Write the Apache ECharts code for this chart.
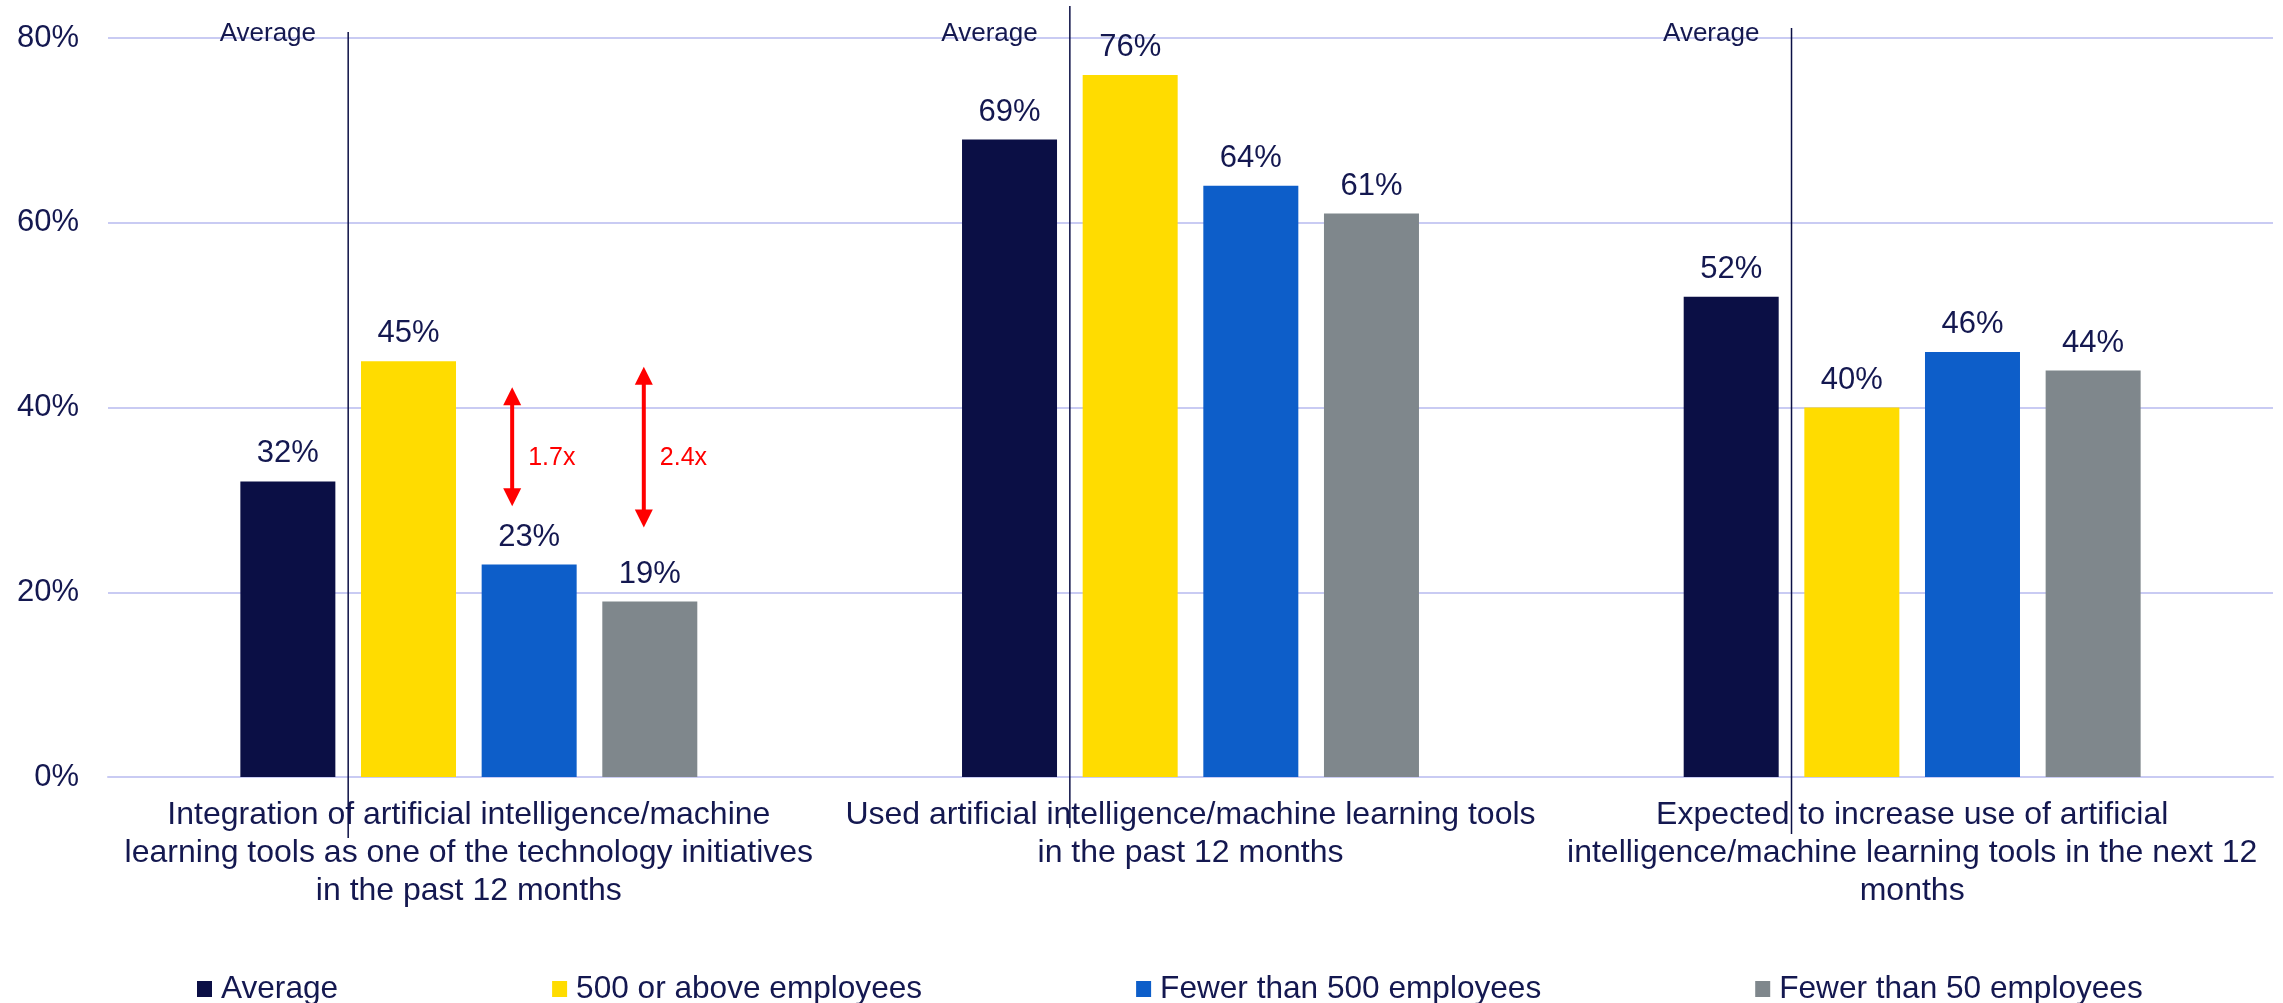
<!DOCTYPE html>
<html>
<head>
<meta charset="utf-8">
<script src="https://cdn.jsdelivr.net/npm/echarts@6/dist/echarts.min.js"></script>
<style>
  html, body { margin: 0; padding: 0; background: #ffffff; }
  #chart { width: 2283px; height: 1003px; }
</style>
</head>
<body>
<div id="chart"></div>
<script>
// Survey categories (x axis) and the four respondent groups
const categories = [
  'Integration of artificial intelligence/machine\nlearning tools as one of the technology initiatives\nin the past 12 months',
  'Used artificial intelligence/machine learning tools\nin the past 12 months',
  'Expected to increase use of artificial\nintelligence/machine learning tools in the next 12\nmonths'
];
const seriesNames = ['Average', '500 or above employees', 'Fewer than 500 employees', 'Fewer than 50 employees'];
const averageValues = [32, 69, 52];
const largeValues = [45, 76, 40];
const under500Values = [23, 64, 46];
const under50Values = [19, 61, 44];
const yTicks = [0, 20, 40, 60, 80];

// Ratio callouts in the first category: span (in %) and their text
const arrowCategory = [0, 0];
const arrowSlot = [2, 3];
const arrowTop = [42.2, 44.4];
const arrowBottom = [29.3, 27.0];
const arrowLabels = ['1.7x', '2.4x'];

const FONT = '"Liberation Sans", Arial, Helvetica, sans-serif';
const NAVY = '#0b0f45';
const TEXT = '#141850';
const GRID = '#c9cbf3';
const colors = ['#0b0f45', '#ffdc00', '#0d5ec9', '#7f878c'];

const BAR_W = 95;
const BAR_GAP = 0.27;
const STEP = BAR_W * (1 + BAR_GAP);

// per-category reach of the "Average" separator above the plot / below the axis (px)
const sepTop = [-6, -32, -10];
const sepBottom = [61, 51, 57];
const arrowShift = [-17, -6];

const valueSets = [averageValues, largeValues, under500Values, under50Values];

const barSeries = valueSets.map((vals, i) => ({
  name: seriesNames[i],
  type: 'bar',
  data: vals,
  barWidth: BAR_W,
  barGap: (BAR_GAP * 100) + '%',
  itemStyle: { color: colors[i] },
  label: {
    show: true,
    position: 'top',
    distance: 12,
    formatter: '{c}%',
    color: TEXT,
    fontSize: 31,
    fontFamily: FONT
  },
  z: 2
}));

const separatorSeries = {
  type: 'custom',
  name: 'separator',
  data: categories.map((c, i) => [i, 0]),
  encode: { x: 0, y: 1 },
  silent: true,
  z: 3,
  renderItem: function (params, api) {
    const cat = api.value(0);
    const base = api.coord([cat, 0]);
    const top = api.coord([cat, yTicks[yTicks.length - 1]]);
    const x = base[0] - STEP;
    return {
      type: 'group',
      children: [
        {
          type: 'line',
          shape: { x1: x, y1: top[1] + sepTop[cat], x2: x, y2: base[1] + sepBottom[cat] },
          style: { stroke: NAVY, lineWidth: 1.5 }
        },
        {
          type: 'text',
          x: base[0] - 1.5 * STEP - 20,
          y: top[1] - 4,
          style: {
            text: 'Average',
            fill: TEXT,
            font: '26px ' + FONT,
            align: 'center',
            verticalAlign: 'middle'
          }
        }
      ]
    };
  }
};

const arrowSeries = {
  type: 'custom',
  name: 'ratio',
  data: arrowTop.map((t, i) => [arrowCategory[i], t, arrowBottom[i], arrowSlot[i], i]),
  encode: { x: 0, y: [1, 2] },
  silent: true,
  z: 4,
  renderItem: function (params, api) {
    const cat = api.value(0);
    const slot = api.value(3);
    const idx = api.value(4);
    const pTop = api.coord([cat, api.value(1)]);
    const pBot = api.coord([cat, api.value(2)]);
    const x = pTop[0] + (slot - 1.5) * STEP + arrowShift[idx];
    const yT = pTop[1], yB = pBot[1];
    const head = 18, hw = 9;
    return {
      type: 'group',
      children: [
        {
          type: 'line',
          shape: { x1: x, y1: yT + head - 2, x2: x, y2: yB - head + 2 },
          style: { stroke: '#ff0000', lineWidth: 4 }
        },
        {
          type: 'polygon',
          shape: { points: [[x, yT], [x - hw, yT + head], [x + hw, yT + head]] },
          style: { fill: '#ff0000' }
        },
        {
          type: 'polygon',
          shape: { points: [[x, yB], [x - hw, yB - head], [x + hw, yB - head]] },
          style: { fill: '#ff0000' }
        },
        {
          type: 'text',
          x: x + 16,
          y: (yT + yB) / 2 + 11,
          style: {
            text: arrowLabels[idx],
            fill: '#ff0000',
            font: '25px ' + FONT,
            align: 'left',
            verticalAlign: 'middle'
          }
        }
      ]
    };
  }
};

const chart = echarts.init(document.getElementById('chart'), null, { renderer: 'canvas' });
chart.setOption({
  animation: false,
  backgroundColor: '#ffffff',
  textStyle: { fontFamily: FONT },
  grid: { left: 108, right: 10, top: 38, bottom: 226, containLabel: false },
  legend: {
    data: seriesNames,
    left: 192,
    top: 968,
    icon: 'rect',
    itemWidth: 15,
    itemHeight: 16,
    itemGap: 214,
    textStyle: { color: TEXT, fontSize: 31.6, fontFamily: FONT, padding: [0, 0, 0, 4] }
  },
  xAxis: {
    type: 'category',
    data: categories,
    axisLine: { show: true, lineStyle: { color: GRID, width: 2 } },
    axisTick: { show: false },
    axisLabel: {
      interval: 0,
      margin: 19,
      color: TEXT,
      fontSize: 32,
      lineHeight: 38,
      fontFamily: FONT,
      align: 'center'
    }
  },
  yAxis: {
    type: 'value',
    min: yTicks[0],
    max: yTicks[yTicks.length - 1],
    interval: yTicks[1] - yTicks[0],
    axisLine: { show: false },
    axisTick: { show: false },
    splitLine: { lineStyle: { color: GRID, width: 2 } },
    axisLabel: {
      formatter: '{value}%',
      color: TEXT,
      fontSize: 31,
      fontFamily: FONT,
      margin: 29
    }
  },
  series: barSeries.concat([separatorSeries, arrowSeries])
});
</script>
</body>
</html>
